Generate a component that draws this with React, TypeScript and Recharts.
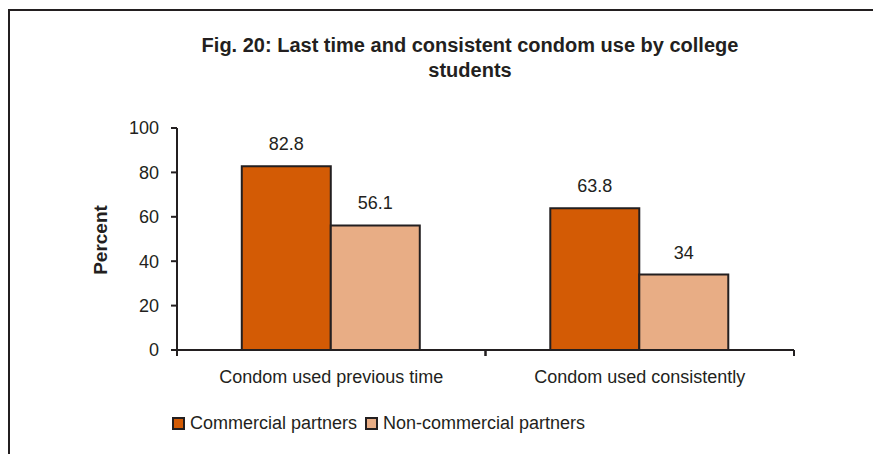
import React from "react";
import { BarChart, Bar, XAxis, YAxis, LabelList } from "recharts";

const categories = ["Condom used previous time", "Condom used consistently"];
const commercial = [82.8, 63.8];
const nonCommercial = [56.1, 34];
const yTicks = [0, 20, 40, 60, 80, 100];
const seriesNames = ["Commercial partners", "Non-commercial partners"];
const seriesColors = ["#D35B05", "#E8AD85"];

const data = categories.map((name, i) => ({
  name,
  commercial: commercial[i],
  nonCommercial: nonCommercial[i],
}));

const FONT = "'Liberation Sans', Arial, sans-serif";
const INK = "#231F20";

const CategoryTick = (props: any) => {
  const { x, y, payload } = props;
  const half = payload.offset ?? 0;
  const axisY = y - 8;
  return (
    <g>
      <line x1={x - half} x2={x - half} y1={axisY} y2={axisY + 6} stroke={INK} strokeWidth={2} />
      <line x1={x + half} x2={x + half} y1={axisY} y2={axisY + 6} stroke={INK} strokeWidth={2} />
      <text
        x={x}
        y={axisY + 27}
        textAnchor="middle"
        dominantBaseline="central"
        fill={INK}
        fontSize={18}
        fontFamily={FONT}
      >
        {payload.value}
      </text>
    </g>
  );
};

export default function App() {
  return (
    <div
      style={{
        position: "absolute",
        left: 0,
        top: 0,
        width: 873,
        height: 454,
        background: "#fff",
        fontFamily: FONT,
        overflow: "hidden",
      }}
    >
      {/* frame (only top and left edges are visible in the crop) */}
      <div
        style={{
          position: "absolute",
          left: 8,
          top: 9,
          width: 900,
          height: 500,
          borderTop: `2px solid ${INK}`,
          borderLeft: `2px solid ${INK}`,
        }}
      />
      <div
        style={{
          position: "absolute",
          left: 120,
          width: 700,
          top: 33,
          textAlign: "center",
          fontWeight: "bold",
          fontSize: 20,
          lineHeight: "25px",
          color: INK,
        }}
      >
        Fig. 20: Last time and consistent condom use by college
        <br />
        students
      </div>
      <div
        style={{
          position: "absolute",
          left: 101,
          top: 240,
          transform: "translate(-50%, -50%) rotate(-90deg)",
          fontWeight: "bold",
          fontSize: 19,
          color: INK,
        }}
      >
        Percent
      </div>
      <BarChart
        width={873}
        height={454}
        data={data}
        barCategoryGap="21%"
        barGap={0}
        margin={{ top: 128, right: 79, left: 117, bottom: 74 }}
        style={{ position: "absolute", left: 0, top: 0 }}
      >
        <XAxis
          dataKey="name"
          height={30}
          tickLine={false}
          tickSize={6}
          tickMargin={2}
          axisLine={{ stroke: INK, strokeWidth: 2 }}
          tick={<CategoryTick />}
          interval={0}
        />
        <YAxis
          width={60}
          domain={[0, 100]}
          ticks={yTicks}
          interval={0}
          tickSize={6}
          tickMargin={12}
          axisLine={{ stroke: INK, strokeWidth: 2 }}
          tickLine={{ stroke: INK, strokeWidth: 2 }}
          tick={{ fill: INK, fontSize: 18, fontFamily: FONT }}
        />
        <Bar dataKey="commercial" fill={seriesColors[0]} stroke={INK} strokeWidth={2} isAnimationActive={false}>
          <LabelList dataKey="commercial" position="top" offset={16} fill={INK} fontSize={18} fontFamily={FONT} />
        </Bar>
        <Bar dataKey="nonCommercial" fill={seriesColors[1]} stroke={INK} strokeWidth={2} isAnimationActive={false}>
          <LabelList dataKey="nonCommercial" position="top" offset={16} fill={INK} fontSize={18} fontFamily={FONT} />
        </Bar>
      </BarChart>
      <div
        style={{
          position: "absolute",
          left: 172,
          top: 413,
          display: "flex",
          alignItems: "center",
          fontSize: 18,
          color: INK,
          whiteSpace: "nowrap",
        }}
      >
        {seriesNames.map((n, i) => (
          <div key={n} style={{ display: "flex", alignItems: "center", marginRight: 8 }}>
            <span
              style={{
                display: "inline-block",
                width: 9,
                height: 9,
                background: seriesColors[i],
                border: `2px solid ${INK}`,
                marginRight: 5,
              }}
            />
            {n}
          </div>
        ))}
      </div>
    </div>
  );
}
